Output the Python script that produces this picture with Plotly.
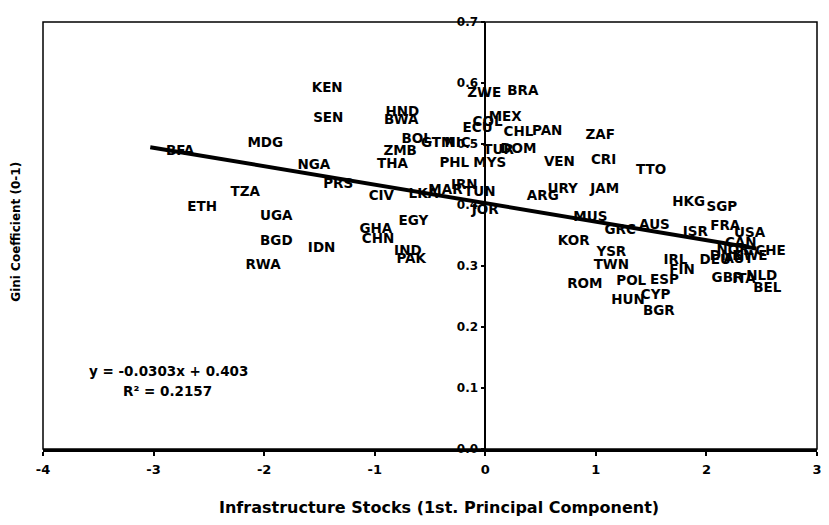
import plotly.graph_objects as go

# ---- data ----
codes = ["KEN", "SEN", "MDG", "BFA", "NGA", "PRS", "TZA", "ETH", "UGA", "BGD",
         "RWA", "IDN", "CIV", "EGY", "GHA", "CHN", "IND", "PAK", "HND", "BWA",
         "ZWE", "BRA", "ECU", "COL", "MEX", "CHL", "PAN", "ZAF", "BOL", "GTM",
         "NIC", "ZMB", "THA", "PHL", "MYS", "TUR", "DOM", "VEN", "CRI", "LKA",
         "MAR", "IRN", "TUN", "JOR", "ARG", "URY", "JAM", "TTO", "MUS", "GRC",
         "AUS", "KOR", "YSR", "TWN", "ROM", "POL", "ESP", "CYP", "HUN", "BGR",
         "IRL", "FIN", "HKG", "SGP", "ISR", "FRA", "USA", "CAN", "NOR", "DNK",
         "SWE", "CHE", "DEU", "AUT", "GBR", "ITA", "NLD", "BEL"]

infra = [-1.43, -1.42, -1.99, -2.76, -1.55, -1.33, -2.17, -2.56, -1.89, -1.89,
         -2.01, -1.48, -0.94, -0.65, -0.99, -0.97, -0.70, -0.67, -0.75, -0.76,
         -0.01, 0.34, -0.07, 0.02, 0.18, 0.30, 0.56, 1.04, -0.62, -0.43,
         -0.25, -0.77, -0.84, -0.28, 0.04, 0.12, 0.30, 0.67, 1.07, -0.56,
         -0.36, -0.19, -0.05, 0.00, 0.52, 0.70, 1.08, 1.50, 0.95, 1.22,
         1.53, 0.80, 1.14, 1.14, 0.90, 1.32, 1.62, 1.54, 1.29, 1.57,
         1.72, 1.78, 1.84, 2.14, 1.90, 2.17, 2.39, 2.31, 2.24, 2.18,
         2.40, 2.58, 2.08, 2.29, 2.19, 2.34, 2.50, 2.55]

gini = [0.591, 0.542, 0.500, 0.487, 0.465, 0.433, 0.421, 0.395, 0.381, 0.340,
        0.301, 0.328, 0.414, 0.373, 0.359, 0.344, 0.323, 0.310, 0.551, 0.539,
        0.582, 0.586, 0.525, 0.535, 0.543, 0.519, 0.520, 0.513, 0.507, 0.501,
        0.501, 0.487, 0.467, 0.468, 0.468, 0.489, 0.490, 0.469, 0.472, 0.417,
        0.423, 0.431, 0.420, 0.391, 0.413, 0.425, 0.426, 0.457, 0.380, 0.358,
        0.367, 0.340, 0.322, 0.300, 0.270, 0.275, 0.276, 0.252, 0.243, 0.226,
        0.308, 0.292, 0.404, 0.396, 0.355, 0.364, 0.353, 0.336, 0.326, 0.315,
        0.315, 0.324, 0.309, 0.311, 0.279, 0.277, 0.283, 0.263]

trend_slope = -0.0303
trend_intercept = 0.403
trend_x = [-3.03, 2.45]
eq_text = ["y = -0.0303x + 0.403", "R\u00b2 = 0.2157"]

x_ticks = [-4, -3, -2, -1, 0, 1, 2, 3]
y_ticks = [0.0, 0.1, 0.2, 0.3, 0.4, 0.5, 0.6, 0.7]

FONT = "DejaVu Sans"

# the page body has an 8px margin, so the figure is offset by (8, 8)
OFF = 8
PL, PT, PW, PH = 43, 19, 779, 430   # plot area in window pixels
FIG_W, FIG_H = 829 - OFF, 525 - OFF
ML, MT = PL - OFF, PT - OFF
MR = FIG_W - ML - PW
MB = FIG_H - MT - PH


def px_x(x):
    return (x - PL) / PW


def px_y(y):
    return (PT + PH - y) / PH


trend_y = [trend_slope * v + trend_intercept for v in trend_x]

fig = go.Figure()
fig.add_trace(go.Scatter(
    x=trend_x, y=trend_y, mode="lines",
    line=dict(color="black", width=4), hoverinfo="skip", showlegend=False))
fig.add_trace(go.Scatter(
    x=infra, y=gini, mode="text", text=codes, textposition="middle center",
    textfont=dict(family=FONT, size=13.5, color="black", weight="bold"),
    showlegend=False))

fig.update_layout(
    width=FIG_W, height=FIG_H,
    margin=dict(l=ML, r=MR, t=MT, b=MB, pad=0),
    paper_bgcolor="white", plot_bgcolor="white",
    showlegend=False,
    xaxis=dict(range=[-4, 3], tickvals=x_ticks, ticktext=[str(v) for v in x_ticks],
               ticks="outside", ticklen=4, tickwidth=1.5, tickcolor="black",
               showline=True, linecolor="black", linewidth=2.5,
               showgrid=False, zeroline=False, ticklabelstandoff=3,
               ticklabeloverflow="allow",
               tickfont=dict(family=FONT, size=13, color="black", weight="bold")),
    yaxis=dict(range=[0, 0.7], tickvals=y_ticks,
               ticktext=["%.1f" % v for v in y_ticks],
               anchor="free", position=4 / 7,
               ticks="outside", ticklen=4, tickwidth=1.5, tickcolor="black",
               showline=True, linecolor="black", linewidth=1.5,
               showgrid=False, zeroline=False,
               tickfont=dict(family=FONT, size=12, color="black", weight="bold")),
    shapes=[dict(type="rect", xref="paper", yref="paper", x0=0, x1=1, y0=0, y1=1,
                 line=dict(color="black", width=1.5), layer="below")],
    annotations=[
        dict(text="Infrastructure Stocks (1st. Principal Component)",
             xref="paper", yref="paper", x=px_x(442), y=px_y(508), showarrow=False,
             xanchor="center", yanchor="middle",
             font=dict(family=FONT, size=16, color="black", weight="bold")),
        dict(text="Gini Coefficient (0-1)", textangle=-90,
             xref="paper", yref="paper", x=px_x(15), y=px_y(230), showarrow=False,
             xanchor="center", yanchor="middle",
             font=dict(family=FONT, size=12, color="black", weight="bold")),
        dict(text=eq_text[0], xref="paper", yref="paper",
             x=px_x(169), y=px_y(370), showarrow=False,
             xanchor="center", yanchor="middle",
             font=dict(family=FONT, size=13.5, color="black", weight="bold")),
        dict(text=eq_text[1], xref="paper", yref="paper",
             x=px_x(168), y=px_y(391), showarrow=False,
             xanchor="center", yanchor="middle",
             font=dict(family=FONT, size=13.5, color="black", weight="bold")),
    ],
)

fig.write_html("out.html")
